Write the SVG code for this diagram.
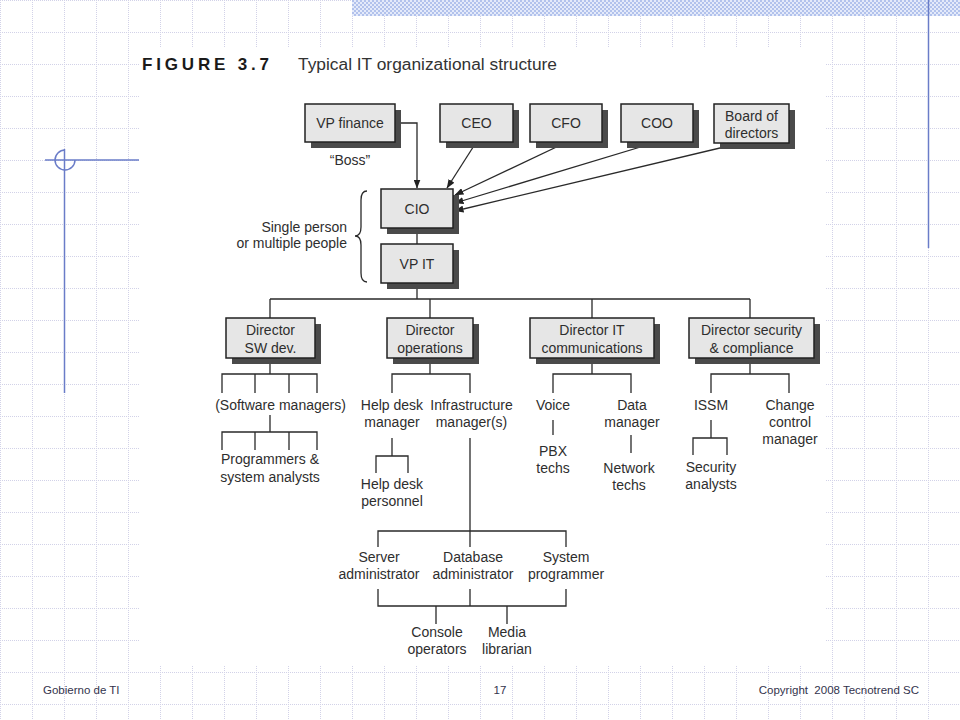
<svg xmlns="http://www.w3.org/2000/svg" width="960" height="720" viewBox="0 0 960 720">
<defs>
<pattern id="grid" x="0" y="0" width="32" height="32" patternUnits="userSpaceOnUse">
<line x1="0" y1="0.5" x2="32" y2="0.5" stroke="#d2d2e8" stroke-width="1" stroke-dasharray="1 1"/>
<line x1="0.5" y1="0" x2="0.5" y2="32" stroke="#d2d2e8" stroke-width="1" stroke-dasharray="1 1"/>
</pattern>
<pattern id="hatch" x="0" y="0" width="4" height="4" patternUnits="userSpaceOnUse">
<rect width="4" height="4" fill="#e4eafa"/>
<rect width="2" height="2" fill="#b2c2ec"/>
<rect x="2" y="2" width="2" height="2" fill="#b2c2ec"/>
</pattern>
<marker id="arr" markerWidth="9" markerHeight="7" refX="8.5" refY="3.5" orient="auto" markerUnits="userSpaceOnUse">
<path d="M0,0 L9,3.5 L0,7 z" fill="#222"/>
</marker>
</defs>
<style>
.box{fill:#e6e6e6;stroke:#222;stroke-width:1.5}
.sh{fill:#4a4a4a}
.t{font-family:"Liberation Sans",Arial,sans-serif;font-size:14px;fill:#2e2e2e;text-anchor:middle}
.r{text-anchor:end}
.ln{fill:none;stroke:#2a2a2a;stroke-width:1.3}
.deco{stroke:#6a7cc8;stroke-width:1.5;fill:none}
.foot{font-family:"Liberation Sans",Arial,sans-serif;font-size:11.5px;fill:#33334d;white-space:pre}
</style>
<rect width="960" height="720" fill="#fff"/>
<rect width="960" height="720" fill="url(#grid)"/>
<rect x="352" y="0" width="608" height="16" fill="url(#hatch)"/>
<line class="deco" x1="928.5" y1="0" x2="928.5" y2="248"/>
<g id="leftdeco">
<line class="deco" x1="45" y1="160" x2="140" y2="160"/>
<path class="deco" d="M65,150 A10,10 0 1 0 75,160"/>
<line class="deco" x1="64.5" y1="149" x2="64.5" y2="393"/>
</g>
<rect x="139" y="48" width="686" height="617" fill="#fff"/>
<g id="title">
<text x="142" y="70" font-family="Liberation Sans,Arial,sans-serif" font-weight="bold" font-size="17px" fill="#1a1a1a" textLength="127" lengthAdjust="spacing">FIGURE 3.7</text>
<text x="298" y="70" font-family="Liberation Sans,Arial,sans-serif" font-size="17.3px" fill="#333" textLength="259" lengthAdjust="spacingAndGlyphs">Typical IT organizational structure</text>
</g>
<g id="connectors">
<path class="ln" d="M395,123 H417 V188" marker-end="url(#arr)"/>
<path class="ln" d="M477,141 L447,188" marker-end="url(#arr)"/>
<path class="ln" d="M567,142 L455,195" marker-end="url(#arr)"/>
<path class="ln" d="M657,142 L455,203" marker-end="url(#arr)"/>
<path class="ln" d="M741,143 L455,211" marker-end="url(#arr)"/>
<path class="ln" d="M417,228 V244 M417,283 V299 M270,299 H750 M270,299 V318 M430,299 V318 M592,299 V318 M750,299 V318"/>
<path class="ln" d="M270,358 V374 M222,393 V374 H317 V393 M255,374 V393 M289,374 V393"/>
<path class="ln" d="M270,415 V432 M222,450 V432 H317 V450 M255,432 V450 M289,432 V450"/>
<path class="ln" d="M430,358 V374 M392,393 V374 H470 V393"/>
<path class="ln" d="M392,438 V456 M376,473 V456 H408 V473"/>
<path class="ln" d="M470,438 V547 M378,547 V531 H566 V547"/>
<path class="ln" d="M378,589 V606 H566 V589 M470,589 V606 M436,606 V624 M507,606 V624"/>
<path class="ln" d="M592,358 V374 M553,393 V374 H631 V393 M553,420 V435 M631,435 V453"/>
<path class="ln" d="M750,358 V374 M711,393 V374 H789 V393 M711,420 V438 M693,455 V438 H727 V455"/>
<path class="ln" d="M367,191 Q361,191 361,200 L361,227 Q361,236 355,236 Q361,236 361,245 L361,273 Q361,282 367,282"/>
</g>
<g id="vpfinance"><rect class="sh" x="311" y="110" width="90" height="38"/><rect class="box" x="305" y="104" width="90" height="38"/><text class="t" x="350" y="128">VP finance</text></g>
<g id="ceo"><rect class="sh" x="446" y="110" width="73" height="38"/><rect class="box" x="440" y="104" width="73" height="38"/><text class="t" x="476.5" y="128">CEO</text></g>
<g id="cfo"><rect class="sh" x="536" y="110" width="72" height="38"/><rect class="box" x="530" y="104" width="72" height="38"/><text class="t" x="566" y="128">CFO</text></g>
<g id="coo"><rect class="sh" x="627" y="110" width="72" height="38"/><rect class="box" x="621" y="104" width="72" height="38"/><text class="t" x="657" y="128">COO</text></g>
<g id="board"><rect class="sh" x="720" y="110" width="75" height="39"/><rect class="box" x="714" y="104" width="75" height="39"/><text class="t" x="751.5" y="121">Board of</text><text class="t" x="751.5" y="137.5">directors</text></g>
<text class="t" x="350" y="165">“Boss”</text>
<g id="cio"><rect class="sh" x="387" y="195" width="72" height="39"/><rect class="box" x="381" y="189" width="72" height="39"/><text class="t" x="417" y="213.5">CIO</text></g>
<g id="vpit"><rect class="sh" x="387" y="250" width="72" height="39"/><rect class="box" x="381" y="244" width="72" height="39"/><text class="t" x="417" y="268.5">VP IT</text></g>
<g id="brace-label"><text class="t r" x="347" y="232">Single person</text><text class="t r" x="347" y="248">or multiple people</text></g>
<g id="dir-sw"><rect class="sh" x="232" y="324" width="89" height="40"/><rect class="box" x="226" y="318" width="89" height="40"/><text class="t" x="270.5" y="335">Director</text><text class="t" x="270.5" y="352.5">SW dev.</text></g>
<g id="dir-ops"><rect class="sh" x="393" y="324" width="86" height="40"/><rect class="box" x="387" y="318" width="86" height="40"/><text class="t" x="430" y="335">Director</text><text class="t" x="430" y="352.5">operations</text></g>
<g id="dir-it"><rect class="sh" x="536" y="324" width="124" height="40"/><rect class="box" x="530" y="318" width="124" height="40"/><text class="t" x="592" y="335">Director IT</text><text class="t" x="592" y="352.5">communications</text></g>
<g id="dir-sec"><rect class="sh" x="695" y="324" width="125" height="40"/><rect class="box" x="689" y="318" width="125" height="40"/><text class="t" x="751.5" y="335">Director security</text><text class="t" x="751.5" y="352.5">&amp; compliance</text></g>
<g id="sw-managers"><text class="t" x="280.5" y="410">(Software managers)</text></g>
<g id="programmers"><text class="t" x="270" y="464">Programmers &amp;</text><text class="t" x="270" y="481.5">system analysts</text></g>
<g id="helpdesk-mgr"><text class="t" x="392" y="410">Help desk</text><text class="t" x="392" y="427">manager</text></g>
<g id="infra-mgr"><text class="t" x="471.5" y="410">Infrastructure</text><text class="t" x="471.5" y="427">manager(s)</text></g>
<g id="helpdesk-pers"><text class="t" x="392" y="489">Help desk</text><text class="t" x="392" y="506">personnel</text></g>
<g id="server-admin"><text class="t" x="379" y="562">Server</text><text class="t" x="379" y="579">administrator</text></g>
<g id="db-admin"><text class="t" x="473" y="562">Database</text><text class="t" x="473" y="579">administrator</text></g>
<g id="sys-prog"><text class="t" x="566" y="562">System</text><text class="t" x="566" y="579">programmer</text></g>
<g id="console"><text class="t" x="437" y="637">Console</text><text class="t" x="437" y="654">operators</text></g>
<g id="media"><text class="t" x="507" y="637">Media</text><text class="t" x="507" y="654">librarian</text></g>
<g id="voice"><text class="t" x="553" y="410">Voice</text></g>
<g id="data-mgr"><text class="t" x="632" y="410">Data</text><text class="t" x="632" y="427">manager</text></g>
<g id="pbx"><text class="t" x="553" y="456">PBX</text><text class="t" x="553" y="473">techs</text></g>
<g id="network"><text class="t" x="629" y="473">Network</text><text class="t" x="629" y="490">techs</text></g>
<g id="issm"><text class="t" x="711" y="410">ISSM</text></g>
<g id="change"><text class="t" x="790" y="410">Change</text><text class="t" x="790" y="427">control</text><text class="t" x="790" y="444">manager</text></g>
<g id="security"><text class="t" x="711" y="472">Security</text><text class="t" x="711" y="489">analysts</text></g>
<g id="footer">
<text class="foot" x="43" y="694">Gobierno de TI</text>
<text class="foot" x="500" y="694" text-anchor="middle">17</text>
<text class="foot" x="919" y="694" text-anchor="end" xml:space="preserve">Copyright  2008 Tecnotrend SC</text>
</g>
</svg>
